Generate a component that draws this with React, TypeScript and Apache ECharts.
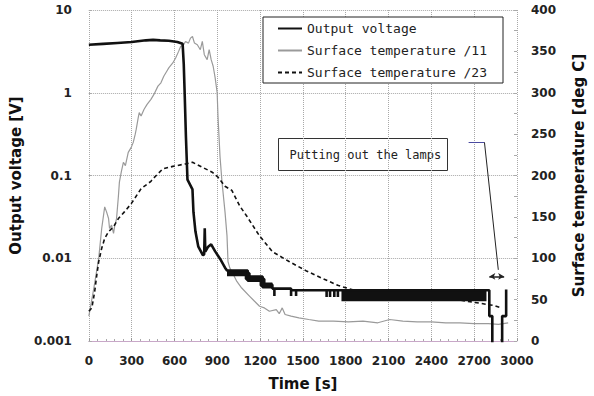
import React, { useEffect, useRef } from "react";
import * as echarts from "echarts";

// ---- Output voltage [V] (left, log axis) ----
const voltTime = [
  0, 100, 200, 300, 400, 450, 500, 560, 620, 657, 665, 672, 680, 691, 726, 733, 747, 767, 800, 808, 812, 816,
  836, 857, 885, 920, 954, 968, 1113, 1113, 1217, 1217, 1286, 1286, 1300, 1300, 1300, 1417, 1417, 1417, 1452,
  1452, 1452, 1666, 1666, 1666, 1690, 1690, 1690, 1720, 1720, 1720, 1745, 1745, 1745, 2806, 2806, 2827, 2827,
  2896, 2896, 2924, 2924,
];
const voltValue = [
  3.8, 3.9, 4.0, 4.1, 4.3, 4.35, 4.3, 4.25, 4.1, 3.9, 2.2, 0.9, 0.3, 0.089, 0.068, 0.036, 0.021, 0.0138, 0.0108,
  0.0112, 0.023, 0.012, 0.0138, 0.0147, 0.0121, 0.0098, 0.0077, 0.0071, 0.0071, 0.006, 0.006, 0.0048, 0.0048,
  0.0043, 0.0043, 0.0035, 0.0043, 0.0043, 0.0035, 0.0041, 0.0041, 0.0035, 0.0041, 0.0041, 0.0034, 0.0041,
  0.0041, 0.0034, 0.0041, 0.0041, 0.0034, 0.0041, 0.0041, 0.0034, 0.0041, 0.0041, 0.002, 0.002, 0.0003,
  0.0003, 0.002, 0.002, 0.0042,
];
// quantisation-noise envelope of the output voltage (read as bands)
const voltBandATime = [968, 1113, 1113, 1217, 1217, 1286];
const voltBandAValue = [0.0066, 0.0066, 0.0056, 0.0056, 0.0047, 0.0047];
const voltBandBTime = [1770, 2786];
const voltBandBValue = [0.00352, 0.00352];

// ---- Surface temperature /11 [deg C] (right axis) ----
const temp11Time = [
  0, 35, 69, 90, 111, 124, 138, 145, 159, 173, 180, 194, 207, 214, 228, 242, 256, 276, 297, 311, 325, 332, 346,
  353, 366, 387, 408, 435, 456, 484, 505, 525, 546, 560, 588, 608, 629, 643, 664, 677, 698, 712, 726, 740, 760,
  781, 795, 809, 829, 843, 857, 871, 885, 899, 905, 919, 933, 940, 954, 968, 975, 988, 1002, 1037, 1071, 1127,
  1161, 1196, 1230, 1265, 1313, 1334, 1355, 1375, 1417, 1472, 1541, 1611, 1714, 1818, 1921, 2025, 2108, 2200,
  2300, 2400, 2500, 2600, 2700, 2800, 2870, 2938,
];
const temp11Value = [
  30, 64, 100, 136, 162, 156, 148, 136, 140, 130, 138, 148, 175, 192, 205, 216, 212, 228, 234, 240, 250, 256, 270,
  276, 272, 280, 286, 292, 298, 308, 312, 320, 326, 330, 336, 342, 350, 356, 358, 362, 360, 366, 368, 360, 358,
  352, 362, 346, 340, 352, 340, 332, 318, 300, 271, 223, 192, 180, 156, 127, 96, 88, 84, 72, 64, 54, 48, 42, 40,
  36, 38, 33, 40, 32, 30, 28, 26, 24, 24, 23, 24, 22, 26, 24, 23, 23, 22, 22, 21, 21, 20, 22,
];

// ---- Surface temperature /23 [deg C] (right axis) ----
const temp23Time = [
  0, 21, 41, 55, 69, 90, 111, 138, 173, 207, 249, 297, 366, 435, 449, 518, 588, 677, 726, 795, 864, 905, 954, 1002,
  1058, 1106, 1196, 1286, 1403, 1521, 1631, 1749, 1866, 2163, 2509, 2834, 2889,
];
const temp23Value = [
  36, 40, 60, 79, 96, 112, 124, 132, 138, 148, 156, 166, 184, 193, 196, 208, 211, 214, 216, 210, 204, 198, 187,
  182, 163, 151, 127, 108, 96, 85, 76, 67, 61, 56, 52, 43, 40,
];

// ---- axis ticks ----
const timeTicks = [0, 300, 600, 900, 1200, 1500, 1800, 2100, 2400, 2700, 3000];
const voltTicks = [0.001, 0.01, 0.1, 1, 10];
const tempTicks = [0, 50, 100, 150, 200, 250, 300, 350, 400];

// ---- annotation (lamps switched off) ----
const lampLeaderTime = [2661, 2772, 2869];
const lampLeaderTemp = [240, 240, 86];
const lampOffTime = [2806, 2910];
const lampArrowTemp = 78;

const zip = (a: number[], b: number[]) => a.map((v, i) => [v, b[i]]);

const FONT = "'DejaVu Sans', sans-serif";
const MONO = "'DejaVu Sans Mono', monospace";

export default function App() {
  const ref = useRef<HTMLDivElement>(null);
  useEffect(() => {
    const chart = echarts.init(ref.current!, null, { renderer: "svg" });
    const tickLabel = { fontFamily: FONT, fontWeight: "bold" as const, fontSize: 12, color: "#222" };
    const nameStyle = { fontFamily: FONT, fontWeight: "bold" as const, fontSize: 15, color: "#111" };
    chart.setOption({
      animation: false,
      backgroundColor: "#fff",
      grid: { left: 87, right: 73, top: 10, bottom: 53, containLabel: false },
      legend: {
        data: ["Output voltage", "Surface temperature /11", "Surface temperature /23"],
        orient: "vertical",
        left: 263,
        top: 17,
        padding: [5, 16, 4, 14],
        itemWidth: 24,
        itemHeight: 14,
        itemGap: 9,
        itemStyle: { opacity: 0 },
        borderColor: "#222",
        borderWidth: 1,
        backgroundColor: "#fff",
        textStyle: { fontFamily: MONO, fontSize: 13, color: "#222" },
      },
      xAxis: {
        type: "value",
        min: timeTicks[0],
        max: timeTicks[timeTicks.length - 1],
        interval: timeTicks[1] - timeTicks[0],
        name: "Time [s]",
        nameLocation: "middle",
        nameGap: 35,
        nameTextStyle: nameStyle,
        axisLine: { lineStyle: { color: "#c8a8c8", width: 1 } },
        axisTick: { inside: true, length: 3, lineStyle: { color: "#999" } },
        minorTick: { show: true, splitNumber: 5, length: 2, lineStyle: { color: "#aaa" } },
        axisLabel: { ...tickLabel, margin: 14, formatter: (v: number) => String(v) },
        splitLine: { show: true, lineStyle: { type: "dotted", color: "#a8a8a8", width: 1 } },
      },
      yAxis: [
        {
          type: "log",
          logBase: 10,
          min: voltTicks[0],
          max: voltTicks[voltTicks.length - 1],
          name: "Output voltage [V]",
          nameLocation: "middle",
          nameRotate: 90,
          nameGap: 57,
          nameTextStyle: nameStyle,
          axisLine: { show: false },
          axisTick: { show: true, inside: true, length: 3, lineStyle: { color: "#aaa" } },
          axisLabel: {
            ...tickLabel,
            margin: 17,
            formatter: (v: number) => String(parseFloat(v.toPrecision(3))),
          },
          splitLine: { show: true, lineStyle: { type: "dotted", color: "#a8a8a8", width: 1 } },
        },
        {
          type: "value",
          position: "right",
          min: tempTicks[0],
          max: tempTicks[tempTicks.length - 1],
          interval: tempTicks[1] - tempTicks[0],
          name: "Surface temperature [deg C]",
          nameLocation: "middle",
          nameRotate: 90,
          nameGap: 54,
          nameTextStyle: nameStyle,
          axisLine: { show: false },
          axisTick: { show: true, inside: true, length: 3, lineStyle: { color: "#aaa" } },
          minorTick: { show: true, splitNumber: 2, length: 3, lineStyle: { color: "#aaa" } },
          axisLabel: { ...tickLabel, margin: 14 },
          splitLine: { show: false },
        },
      ],
      series: [
        {
          name: "Surface temperature /11",
          type: "line",
          yAxisIndex: 1,
          symbol: "none",
          data: zip(temp11Time, temp11Value),
          lineStyle: { color: "#9a9a9a", width: 1.2 },
          itemStyle: { color: "#9a9a9a" },
          markLine: {
            silent: true,
            symbol: ["none", "none"],
            label: { show: false },
            data: [
              [
                { coord: [lampLeaderTime[0], lampLeaderTemp[0]], lineStyle: { color: "#4a4aa0", width: 1, type: "solid" } },
                { coord: [lampLeaderTime[1], lampLeaderTemp[1]] },
              ],
              [
                { coord: [lampLeaderTime[1], lampLeaderTemp[1]], lineStyle: { color: "#222", width: 1, type: "solid" } },
                { coord: [lampLeaderTime[2], lampLeaderTemp[2]] },
              ],
              [
                {
                  coord: [lampOffTime[0], lampArrowTemp],
                  symbol: "arrow",
                  symbolSize: [5, 6],
                  lineStyle: { color: "#222", width: 1.5, type: "solid" },
                },
                { coord: [lampOffTime[1], lampArrowTemp], symbol: "arrow", symbolSize: [5, 6] },
              ],
            ],
          },
        },
        {
          name: "Surface temperature /23",
          type: "line",
          yAxisIndex: 1,
          symbol: "none",
          data: zip(temp23Time, temp23Value),
          lineStyle: { color: "#111", width: 1.6, type: [4, 3] },
          itemStyle: { color: "#111" },
        },
        {
          name: "Output voltage band A",
          type: "line",
          yAxisIndex: 0,
          symbol: "none",
          data: zip(voltBandATime, voltBandAValue),
          lineStyle: { color: "#111", width: 6 },
          itemStyle: { color: "#111" },
        },
        {
          name: "Output voltage band B",
          type: "line",
          yAxisIndex: 0,
          symbol: "none",
          data: zip(voltBandBTime, voltBandBValue),
          lineStyle: { color: "#111", width: 11 },
          itemStyle: { color: "#111" },
        },
        {
          name: "Output voltage",
          type: "line",
          yAxisIndex: 0,
          symbol: "none",
          data: zip(voltTime, voltValue),
          lineStyle: { color: "#111", width: 2.6 },
          itemStyle: { color: "#111" },
        },
      ],
      graphic: [
        {
          type: "group",
          left: 278,
          top: 138,
          children: [
            {
              type: "rect",
              shape: { x: 0, y: 0, width: 169, height: 32 },
              style: { fill: "#fff", stroke: "#333", lineWidth: 1 },
            },
            {
              type: "text",
              x: 11,
              y: 16,
              style: {
                text: "Putting out the lamps",
                font: `12px ${MONO}`,
                fill: "#222",
                verticalAlign: "middle",
              },
            },
          ],
        },
      ],
    });
    return () => chart.dispose();
  }, []);
  return (
    <div
      ref={ref}
      style={{ position: "absolute", left: 0, top: 0, width: 594, height: 396, background: "#fff" }}
    />
  );
}
